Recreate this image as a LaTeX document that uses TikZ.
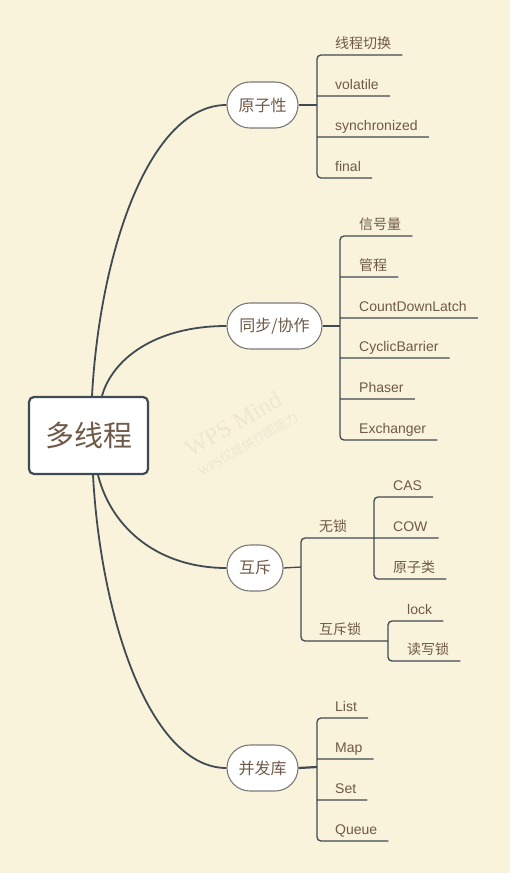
\documentclass[tikz,border=0pt]{standalone}
\usepackage{fontspec}
\setmainfont{Liberation Sans}
\newfontfamily\cjk{Noto Sans CJK SC}
\newfontfamily\wmserif{Liberation Serif}
\usetikzlibrary{calc}
\definecolor{bg}{HTML}{FAF3DC}
\definecolor{ink}{HTML}{6E5A46}
\definecolor{edge}{HTML}{3F4A52}
\definecolor{rim}{HTML}{7A7A7A}
\definecolor{wm}{HTML}{EEE6D1}
\begin{document}
\begin{tikzpicture}[x=1pt,y=-1pt,
  rootbox/.style={draw=edge, line width=2.2pt, fill=white, rounded corners=5pt, minimum width=119pt, minimum height=77pt, inner sep=0pt, text=ink, font=\cjk\fontsize{29}{32}\selectfont},
  topic/.style={draw=rim, line width=1.1pt, fill=white, rounded corners=23pt, minimum height=46pt, inner sep=0pt, text=ink, font=\cjk\fontsize{16}{18}\selectfont},
  leaf/.style={anchor=base west, inner sep=0pt, text=ink, font=\fontsize{14}{16}\selectfont},
  cjkleaf/.style={leaf, font=\cjk\fontsize{14}{16}\selectfont},
  curve/.style={draw=edge, line width=1.8pt},
  stem/.style={draw=edge, line width=2.2pt},
  br/.style={draw=edge, line width=1.3pt, rounded corners=4pt},
  wmark/.style={rotate=30, text=wm, inner sep=0pt},
]
\fill[bg] (0,0) rectangle (510,873);
\useasboundingbox (0,0) rectangle (510,873);

% watermark
\node[wmark, font=\wmserif\fontsize{24}{26}\selectfont] (wm1) at (233,424) {WPS Mind};
\node[wmark, font=\wmserif\fontsize{12.5}{14}\selectfont] (wm2) at (248,444) {WPS{\cjk 仅提供作图能力}};

% root and topics
\node[rootbox] (root) at (88.5,435.5) {多线程};
\node[topic, minimum width=71pt] (n1) at (262.5,105) {原子性};
\node[topic, minimum width=95pt] (n2) at (274.5,326) {同步/协作};
\node[topic, minimum width=56pt] (n3) at (255,568) {互斥};
\node[topic, minimum width=71pt] (n4) at (262.5,768) {并发库};

% curves
\draw[curve] ($(root.north)+(3.5,0)$) .. controls (100,250) and (150,105) .. (n1.west);
\draw[curve] ($(root.north)+(13.5,0)$) .. controls (112,360) and (154,326) .. (n2.west);
\draw[curve] ($(root.south)+(9.5,0)$) .. controls (112,530) and (160,568) .. (n3.west);
\draw[curve] ($(root.south)+(4.5,0)$) .. controls (101,621) and (151,768) .. (n4.west);

% group 1
\coordinate (k1) at (317,105);
\draw[stem] (n1.east) -- (k1);
\node[cjkleaf] (a1) at (335,48) {线程切换};
\node[leaf] (a2) at (335,89) {volatile};
\node[leaf] (a3) at (335,130) {synchronized};
\node[leaf] (a4) at (335,171) {final};
\draw[br] ($(a1.base east)+(11,7)$) -- ($(k1|-a1.base)+(0,7)$) -- ($(k1|-a4.base)+(0,7)$) -- ($(a4.base east)+(11,7)$)
  ($(k1|-a2.base)+(0,7)$) -- ($(a2.base east)+(11,7)$)
  ($(k1|-a3.base)+(0,7)$) -- ($(a3.base east)+(11,7)$);

% group 2
\coordinate (k2) at (340,326);
\draw[stem] (n2.east) -- (k2);
\node[cjkleaf] (b1) at (359,229) {信号量};
\node[cjkleaf] (b2) at (359,270) {管程};
\node[leaf] (b3) at (359,311) {CountDownLatch};
\node[leaf] (b4) at (359,351) {CyclicBarrier};
\node[leaf] (b5) at (359,392) {Phaser};
\node[leaf] (b6) at (359,433) {Exchanger};
\draw[br] ($(b1.base east)+(11,7)$) -- ($(k2|-b1.base)+(0,7)$) -- ($(k2|-b6.base)+(0,7)$) -- ($(b6.base east)+(11,7)$)
  ($(k2|-b2.base)+(0,7)$) -- ($(b2.base east)+(11,7)$)
  ($(k2|-b3.base)+(0,7)$) -- ($(b3.base east)+(11,7)$)
  ($(k2|-b4.base)+(0,7)$) -- ($(b4.base east)+(11,7)$)
  ($(k2|-b5.base)+(0,7)$) -- ($(b5.base east)+(11,7)$);

% group 3
\coordinate (k3) at (301,567);
\node[cjkleaf] (m1) at (319,531) {无锁};
\node[cjkleaf] (m2) at (319,634) {互斥锁};
\coordinate (k31) at (374,538);
\coordinate (k32) at (388,641);
\node[leaf] (e1) at (393,490) {CAS};
\node[leaf] (e2) at (393,531) {COW};
\node[cjkleaf] (e3) at (393,572) {原子类};
\node[leaf] (f1) at (407,614) {lock};
\node[cjkleaf] (f2) at (407,654) {读写锁};
\draw[br] (n3.east) -- (k3)
  (k31) -- (k3|-k31) -- (k3|-k32) -- (k32)
  ($(e1.base east)+(11,7)$) -- ($(k31|-e1.base)+(0,7)$) -- ($(k31|-e3.base)+(0,7)$) -- ($(e3.base east)+(11,7)$)
  (k31) -- ($(e2.base east)+(11,7)$)
  ($(f1.base east)+(11,7)$) -- ($(k32|-f1.base)+(0,7)$) -- ($(k32|-f2.base)+(0,7)$) -- ($(f2.base east)+(11,7)$);

% group 4
\coordinate (k4) at (317,767);
\draw[stem] (n4.east) -- (k4);
\node[leaf] (d1) at (335,711) {List};
\node[leaf] (d2) at (335,752) {Map};
\node[leaf] (d3) at (335,793) {Set};
\node[leaf] (d4) at (335,834) {Queue};
\draw[br] ($(d1.base east)+(11,7)$) -- ($(k4|-d1.base)+(0,7)$) -- ($(k4|-d4.base)+(0,7)$) -- ($(d4.base east)+(11,7)$)
  ($(k4|-d2.base)+(0,7)$) -- ($(d2.base east)+(11,7)$)
  ($(k4|-d3.base)+(0,7)$) -- ($(d3.base east)+(11,7)$);
\end{tikzpicture}
\end{document}
